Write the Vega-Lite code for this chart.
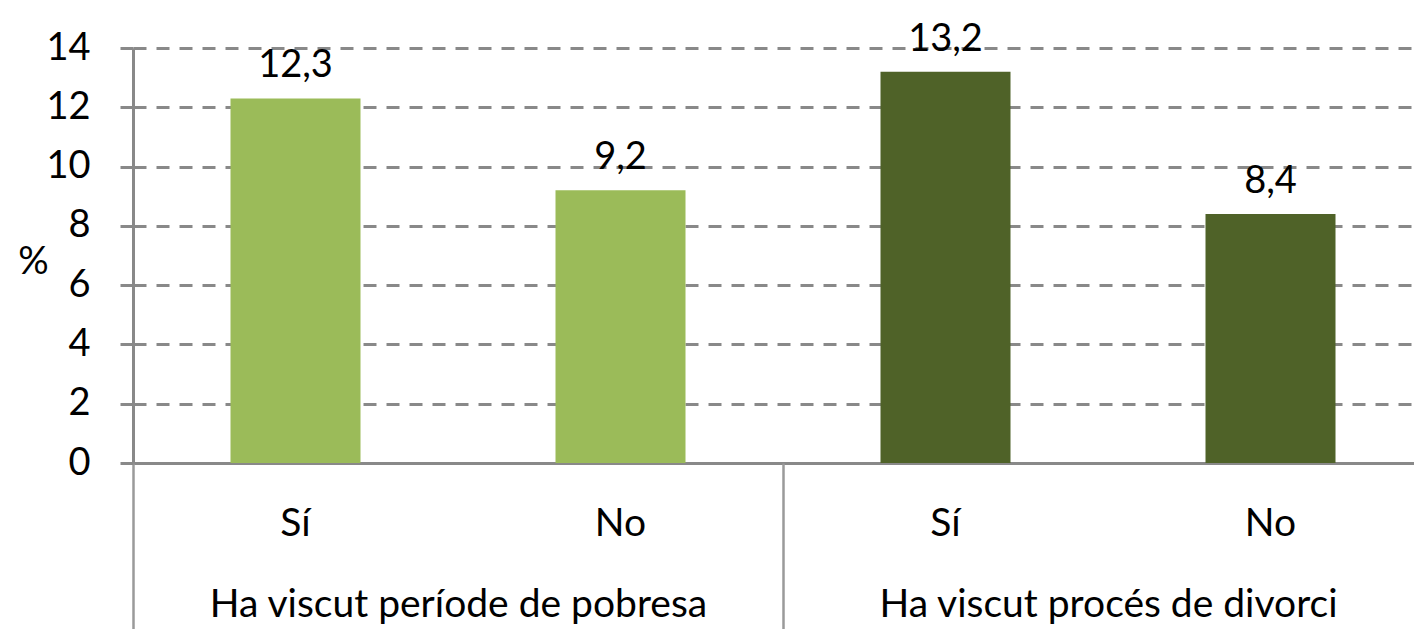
{
  "$schema": "https://vega.github.io/schema/vega-lite/v6.json",
  "width": 1281,
  "height": 415,
  "autosize": "none",
  "padding": {"left": 133, "top": 48, "right": 0, "bottom": 166},
  "background": "white",
  "config": {
    "view": {"stroke": null},
    "font": "Lato",
    "locale": {"number": {"decimal": ",", "thousands": ".", "grouping": [3], "currency": ["", " €"]}},
    "axis": {"labelColor": "#000000", "titleColor": "#000000", "labelFont": "Lato", "titleFont": "Lato"}
  },
  "data": {
    "values": [
      {"key": "Sí1", "grup": "Ha viscut període de pobresa", "valor": 12.3},
      {"key": "No1", "grup": "Ha viscut període de pobresa", "valor": 9.2},
      {"key": "Sí2", "grup": "Ha viscut procés de divorci", "valor": 13.2},
      {"key": "No2", "grup": "Ha viscut procés de divorci", "valor": 8.4}
    ]
  },
  "layer": [
    {
      "mark": {"type": "bar"},
      "encoding": {
        "x": {
          "field": "key", "type": "nominal", "sort": null,
          "scale": {"range": [0, 1300], "paddingInner": 0.6, "paddingOuter": 0.3},
          "axis": {
            "orient": "bottom", "title": null, "labelExpr": "slice(datum.label,0,2)",
            "ticks": false, "labelAngle": 0, "labelFontSize": 39, "labelPadding": 72,
            "labelBaseline": "alphabetic", "domainColor": "#898989", "domainWidth": 3,
            "grid": false, "labelLimit": 0, "labelOverlap": false
          }
        },
        "y": {
          "field": "valor", "type": "quantitative",
          "scale": {"domain": [0, 14], "nice": false},
          "axis": {
            "values": [0, 2, 4, 6, 8, 10, 12, 14], "title": "%", "titleAngle": 0,
            "titleX": -100, "titleY": 214, "titleAlign": "center", "titleBaseline": "middle",
            "titleFontSize": 38, "titleFontWeight": "normal",
            "labelFontSize": 38, "labelPadding": 30, "tickSize": 13, "tickColor": "#898989",
            "tickWidth": 3, "domainColor": "#898989", "domainWidth": 3,
            "grid": true, "gridColor": "#898989", "gridWidth": 3, "gridDash": [13, 10]
          }
        },
        "color": {
          "field": "grup", "type": "nominal",
          "scale": {"range": ["#9BBB59", "#4F6228"]}, "legend": null
        }
      }
    },
    {
      "mark": {"type": "text", "dy": -21, "baseline": "alphabetic", "fontSize": 38, "color": "#000000", "font": "Lato"},
      "encoding": {
        "x": {
          "field": "key", "type": "nominal", "sort": null,
          "scale": {"range": [0, 1300], "paddingInner": 0.6, "paddingOuter": 0.3},
          "axis": null
        },
        "y": {"field": "valor", "type": "quantitative"},
        "text": {"field": "valor", "type": "quantitative", "format": ".1f"}
      }
    },
    {
      "mark": {"type": "text", "text": ""},
      "encoding": {
        "x": {
          "field": "grup", "type": "nominal", "sort": null,
          "scale": {"range": [0, 1300], "paddingInner": 0, "paddingOuter": 0},
          "axis": {
            "orient": "bottom", "title": null, "tickBand": "extent", "tickSize": 166,
            "tickColor": "#9a9a9a", "tickWidth": 2.5, "domain": false, "labelAngle": 0,
            "labelFontSize": 39, "labelPadding": -13, "labelBaseline": "alphabetic",
            "labelLimit": 0, "labelOverlap": false, "grid": false
          }
        }
      }
    }
  ],
  "resolve": {"scale": {"x": "independent"}}
}
